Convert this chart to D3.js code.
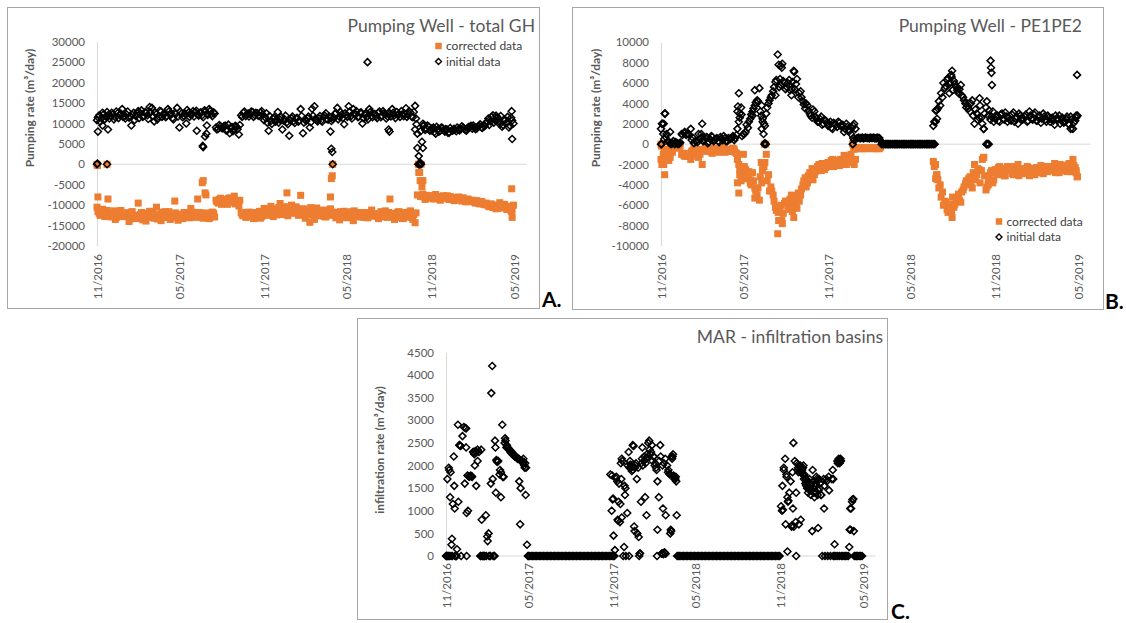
<!DOCTYPE html>
<html>
<head>
<meta charset="utf-8">
<script src="https://cdn.jsdelivr.net/npm/d3@7"></script>
<style>
  body { margin: 0; background: #fff; }
  svg { display: block; }
</style>
</head>
<body>
<svg id="chart" width="1126" height="623"></svg>
<script>
// time axis: day offsets counted from 01/11/2016
const startDate = '2016-11-01';
const axisEnd = '2019-05-24';
const tickDates = ['2016-11-01', '2017-05-01', '2017-11-01', '2018-05-01', '2018-11-01', '2019-05-01'];
const gridStep = 5;   // days between values in the pumping arrays
const midOffset = 2;  // the *Mid arrays sit 2 days after the main grid
const marStep = 3;    // days between values in the infiltration array

// Pumping well - total GH, initial data (one row per month)
const ghInitial = [
  10800, 12000, 11300, 12300, 11600, 12100,
  11800, 12300, 11500, 12500, 12000, 13500, 11700,
  12200, 11400, 9500, 12600, 11800, 13000,
  12400, 11600, 12800, 12000, 14000,
  13800, 10500, 12300, 11700, 12900, 12100, 11500,
  13500, 12200, 11300, 12600, 13800, 9000,
  12400, 11800, 10000, 12700, 12100, 13000,
  12800, 12200, 12600, 12000, 13200, 12400,
  13500, 12300, 12700, 9000, 8700, 9300,
  8800, 9500, 8400, 7600, 9100, 8600,
  9200, 7300, 12000, 12600, 11800, 12400,
  12300, 12800, 12000, 12500, 11900, 13000,
  10800, 12500, 8200, 10600, 11200, 10400,
  12800, 10900, 8500, 11000, 10300, 7000, 11300,
  10600, 11200, 10400, 13500, 7600, 11000,
  11300, 9000, 13600, 14200, 10800,
  11200, 10700, 11600, 12500, 10900, 11400, 11000,
  12300, 13800, 11600, 12200, 9800, 12000,
  14200, 11800, 13500, 12200, 11500, 12600,
  10000, 12100, 11600, 13500, 11900, 12300,
  11800, 12600, 11500, 13000, 12200, 11700,
  12400, 13500, 12000, 12800, 12300, 13000,
  11800, 13700, 12100, 12600, 11500, 14300,
  7500, 0, 5500, 9600, 8700, 9200,
  8300, 9000, 7500, 8600, 8200, 8900,
  8000, 8500, 7800, 8300, 8700, 8100, 8600,
  8600, 9000, 8400, 8900, 9200, 8700,
  9100, 8800, 9400, 9000, 9600,
  10000, 11200, 10500, 12000, 10800, 11500, 9800,
  9200, 11000, 10200, 9000, 11400, 10000
];
const ghInitialMid = [
  11500, 10400, 12600, 11000, 12800, 11200,
  12600, 11000, 12900, 11300, 12400, 11600,
  11200, 12900, 11800, 12100, 10800, 12500,
  11300, 13200, 11900, 12600, 11100, 12700,
  11900, 12700, 11000, 13100, 11600, 12400,
  11800, 12900, 12400, 11000, 12300, 11700,
  12900, 11500, 12400, 13300, 11600, 12200,
  11700, 13100, 11900, 12700, 11500, 12900,
  12100, 13000, 11800, 12400, 8500, 9600, 8900,
  9300, 8300, 9700, 8900, 8100, 9400,
  8600, 9600, 11600, 12900, 12200, 11700,
  12900, 11600, 12600, 11900, 12700, 12200,
  11500, 10200, 11800, 9900, 11500, 10900,
  10200, 11600, 10700, 11900, 9800, 10800,
  11700, 10100, 11400, 10700, 11800, 10200,
  10600, 11700, 10300, 11900, 11100, 10500,
  11800, 10400, 12000, 11100, 11700, 10600,
  11400, 12600, 11000, 12800, 11300, 12500,
  11600, 12900, 11200, 12400, 13000, 11700,
  12700, 11300, 12500, 11000, 12800, 11500,
  12300, 11300, 12900, 11900, 12500, 11200, 12600,
  11700, 12600, 11300, 12100, 11600, 12200,
  12400, 11600, 13000, 11700, 12800, 11200,
  0, 8100, 9900, 8400, 9500, 8200,
  8800, 7900, 9200, 8000, 9000, 8400,
  8600, 7700, 8900, 8200, 8400, 9000,
  8300, 9300, 8700, 8200, 9100, 9400,
  9500, 8600, 9200, 9800, 8900, 9300,
  10400, 9600, 11600, 10200, 11900, 10600,
  11800, 9600, 10800, 11600, 9500, 10700
];
const ghInitialExtra = [
  [0, 0], [1, 200], [2, 8000], [12, 9500], [22, 0], [24, 8500], [218, 8200], [231, 4500], [232, 4200],
  [236, 6800], [239, 7500], [240, 9500], [510, 8000], [512, 3800], [514, 3000], [515, 0], [591, 25000],
  [637, 8500], [639, 8000], [695, 8500], [698, 9800], [700, 4000], [703, 2000], [704, 0], [706, 0],
  [707, 300], [708, 0], [712, 4000], [713, 9400], [906, 13000], [907, 6200]
];

// Pumping well - total GH, corrected data
const ghCorrected = [
  -10500, -12000, -11800, -12300, -11500, -12400,
  -11800, -12500, -13500, -11600, -12300, -12800, -11900,
  -12600, -14000, -11700, -12800, -13300, -9500,
  -12300, -13600, -12000, -12900, -11500,
  -12700, -13200, -10500, -12400, -13800, -12000, -11600,
  -12900, -13500, -12200, -9000, -12800, -13300,
  -12300, -11800, -13000, -12600, -10800, -12500,
  -12800, -8500, -11900, -13000, -12400, -12200,
  -13300, -12600, -12000, -8800, -9500, -8300,
  -9000, -8600, -9800, -8200, -9300, -7800,
  -8900, -10200, -11800, -12600, -13000, -12200,
  -12700, -11900, -13000, -12400, -11500, -12800,
  -10800, -12500, -11500, -10300, -12800, -12000,
  -11000, -9600, -12300, -10500, -7000, -11200, -10000,
  -11600, -10400, -12500, -7600, -11000, -13200,
  -12000, -14200, -11300, -13500, -10700,
  -11800, -12600, -11200, -12900, -12200, -10900, -11700,
  -12500, -11800, -13600, -12200, -11500, -13000,
  -12700, -11600, -13800, -12300, -11900, -12900,
  -12400, -13000, -11800, -12600, -11200, -12100,
  -12500, -13300, -11700, -12800, -11400, -13000,
  -8500, -12700, -13500, -12200, -11600, -12900,
  -13200, -11800, -12600, -11400, -13500, -14300,
  -7500, -2000, -5500, -8000, -7600, -8300,
  -7800, -8500, -7400, -8200, -8800, -8000,
  -8300, -7700, -8600, -8100, -8900, -8400, -8000,
  -8700, -8200, -9100, -8500, -9000, -8800,
  -9300, -8900, -9600, -9100, -9800,
  -9500, -10200, -9700, -10600, -10000, -10800, -9400,
  -10400, -9800, -11000, -10300, -11500, -10000
];
const ghCorrectedMid = [
  -11600, -12500, -11000, -12800, -11300, -12200,
  -12900, -11400, -13000, -12100, -11300, -12700,
  -11900, -12800, -13400, -11600, -12500, -13100,
  -13200, -11800, -12600, -13900, -12200, -13000,
  -11900, -12800, -13400, -12300, -11700, -13000,
  -12200, -11600, -13100, -12600, -11900, -13700,
  -12800, -13300, -11900, -12200, -13100, -11700,
  -12100, -13000, -11800, -12600, -13200, -11900,
  -12400, -13000, -11700, -12900, -9200, -8600, -9800,
  -8800, -9600, -8400, -9200, -8900, -9700,
  -9500, -8800, -12400, -11800, -12900, -11700,
  -12200, -13300, -11800, -12600, -13200, -11900,
  -11900, -11000, -12300, -10900, -11600, -12400,
  -10600, -12100, -11300, -10400, -12600, -11500,
  -12000, -11200, -10800, -12300, -11500, -10900,
  -11600, -12400, -10600, -12100, -11800, -12600,
  -12400, -11300, -12800, -11500, -12000, -12500,
  -11900, -13100, -12400, -11600, -12800, -12100,
  -13100, -12000, -12600, -11400, -12700, -12300,
  -11800, -12900, -12200, -13100, -12000, -12700,
  -12100, -12800, -12300, -11600, -12900, -12200, -11800,
  -12300, -12000, -13000, -11700, -12500, -13300,
  -12000, -12900, -11700, -13000, -12300, -11900,
  0, -7900, -7300, -8600, -7700, -8100,
  -8100, -7600, -8400, -7900, -8300, -7700,
  -8000, -8500, -7900, -8600, -8200, -8700,
  -8400, -9000, -8600, -9200, -8700, -9100,
  -9000, -9500, -9200, -9700, -9400, -9900,
  -9900, -10400, -9800, -10300, -10900, -10100,
  -10100, -10700, -10300, -11100, -10500, -11200
];
const ghCorrectedExtra = [
  [0, 0], [1, -300], [2, -8000], [22, 0], [24, -8500], [230, -4500], [232, -4000], [236, -7000],
  [238, -7500], [510, -8000], [512, -3500], [514, -2800], [515, 0], [703, -2000], [704, 0],
  [706, -4000], [708, 0], [712, -4000], [906, -6000], [907, -13000]
];

// Pumping well - PE1PE2, initial data
const peInitial = [
  1500, 1000, 700, 300, 1200, 100,
  0, 100, 50, 1000, 1100, 900, 1000,
  1500, 600, 300, 200, 500, 2000,
  400, 700, 200, 800, 300,
  500, 300, 700, 400, 600, 300, 500,
  600, 400, 900, 2200, 3600, 1000,
  1200, 1600, 2500, 3200, 3800, 4300,
  5500, 3800, 2000, 3000, 4000, 4600,
  5200, 6100, 8800, 6400, 7900, 6000,
  5600, 6300, 4800, 7200, 5900, 4600,
  5200, 4200, 3500, 3800, 3000, 2600,
  3200, 2500, 2200, 2700, 2000, 2300,
  1800, 2200, 1500, 2000, 1700, 2100,
  1700, 1200, 2000, 1400, 1000, 1800, 1500,
  600, 550, 650, 600, 600, 550,
  600, 650, 550, 600, 300,
  0, 0, 0, 0, 0, 0, 0,
  0, 0, 0, 0, 0, 0,
  0, 0, 0, 0, 0, 0,
  0, 0, 0, 1800, 3300, 3500,
  3800, 4600, 5500, 6300, 5900, 6600,
  6200, 5600, 5000, 5800, 4600, 4000,
  3800, 3200, 4300, 2000, 3000, 2600,
  2600, 1500, 3600, 2800, 2400, 3200,
  2500, 2800, 2200, 3000, 2400, 2700,
  2600, 2300, 3100, 2500, 2000, 2800, 2400,
  2700, 2200, 3200, 2500, 2900, 2300,
  2600, 2100, 3000, 2400, 2800,
  2200, 2600, 1900, 2500, 2800, 2300, 2100,
  2500, 2000, 2700, 1500, 2300, 2800
];
const peInitialMid = [
  2000, 500, 1000, 200, 0, 300,
  200, 0, 150, 900, 1200, 1000,
  900, 400, 100, 300, 1000, 600,
  300, 600, 100, 500, 700, 400,
  600, 200, 500, 800, 300, 600,
  500, 800, 600, 1500, 3000, 800,
  1000, 1900, 2200, 2900, 3500, 4100,
  4200, 3200, 2500, 1800, 3600, 4300,
  4800, 5600, 6300, 7800, 5800, 6200, 5400,
  6000, 5300, 6100, 5400, 6400, 5000,
  4600, 3900, 4000, 3300, 2800, 3400,
  2700, 2200, 2500, 1900, 2400, 2100,
  2000, 1600, 2100, 1900, 2200, 1800,
  1900, 1500, 1700, 1300, 1600, 2000,
  550, 650, 600, 550, 650, 600,
  650, 600, 550, 650, 600, 0,
  0, 0, 0, 0, 0, 0,
  0, 0, 0, 0, 0, 0,
  0, 0, 0, 0, 0, 0,
  0, 0, 0, 0, 2200, 3300,
  4200, 5000, 6000, 5700, 6500, 6100, 5300,
  5900, 5300, 5400, 4800, 4300, 3600,
  3500, 4000, 2800, 3400, 2400, 3800,
  2000, 3000, 0, 3300, 2700, 2200,
  2700, 2300, 2900, 2500, 3100, 2200,
  2400, 2900, 2200, 2700, 3000, 2500,
  2500, 2900, 2300, 2800, 2400, 3100,
  2300, 2800, 2500, 2700, 2200, 2600,
  2500, 2300, 2800, 2400, 2000, 2600,
  2200, 2700, 1900, 2400, 2100, 2600
];
const peInitialExtra = [
  [0, 0], [1, 0], [3, 2000], [6, 2000], [8, 3000], [9, 3000], [20, 100], [88, 1000], [90, 700],
  [167, 3200], [168, 3700], [170, 5000], [172, 2600], [176, 2900], [200, 2800], [205, 5300],
  [219, 2800], [220, 1500], [222, 2200], [224, 1000], [226, 0], [227, 100], [229, 0], [250, 4800],
  [258, 5600], [262, 7700], [264, 7500], [286, 5400], [291, 7100], [419, 0], [420, 600], [422, 400],
  [595, 0], [598, 0], [600, 2200], [603, 2500], [630, 5000], [634, 6800], [636, 7200], [696, 4500],
  [705, 1500], [711, 0], [712, 4200], [714, 0], [716, 0], [720, 8200], [721, 7500], [722, 7000],
  [723, 5800], [895, 1500], [907, 2800], [909, 6800]
];

// Pumping well - PE1PE2, corrected data
const peCorrected = [
  -1500, -1000, -1200, -500, -1300, -800,
  -100, -200, -300, -1000, -1100, -900, -1200,
  -1500, -600, -900, -1200, -800, -2000,
  -500, -700, -400, -800, -600,
  -500, -700, -400, -600, -800, -500, -700,
  -600, -500, -900, -2000, -3600, -1000,
  -2500, -3000, -3800, -2800, -4300, -5000,
  -5500, -3800, -2200, -1000, -3000, -4200,
  -5000, -6200, -8800, -6300, -7800, -5800,
  -5600, -6400, -5000, -7200, -5800, -4800,
  -5000, -4000, -3300, -3800, -2800, -2400,
  -3000, -2500, -2000, -2600, -1900, -2300,
  -1800, -2200, -1500, -2000, -1600, -2100,
  -1700, -1100, -2000, -1400, -1000, -1800, -1500,
  -400, -450, -350, -400, -450, -400,
  -400, -350, -450, -400, -300,
  null, null, null, null, null, null, null,
  null, null, null, null, null, null,
  null, null, null, null, null, null,
  null, null, null, -1700, -3400, -3500,
  -4000, -4700, -5600, -6400, -5900, -6600,
  -6200, -5500, -4900, -5700, -4500, -3900,
  -3700, -3200, -4300, -2000, -3000, -2500,
  -2600, -1300, -4500, -3500, -2800, -3800,
  -2500, -3000, -2200, -2700, -3100, -2400,
  -2600, -2300, -3000, -2500, -2000, -2800, -2400,
  -2700, -2200, -3100, -2500, -2800, -2300,
  -2600, -2100, -2900, -2400, -2700,
  -2200, -2600, -1900, -2500, -2800, -2300, -2100,
  -2500, -2000, -2700, -1500, -2300, -3200
];
const peCorrectedMid = [
  -2000, -500, -900, -1600, -700, -300,
  -200, -400, -150, -900, -1200, -1000,
  -1000, -700, -400, -900, -1300, -500,
  -600, -300, -700, -500, -900, -400,
  -400, -800, -600, -300, -700, -500,
  -700, -400, -800, -1500, -3000, -2500,
  -2200, -3400, -2700, -4000, -3600, -4600,
  -4300, -3200, -2600, -1800, -3600, -4600,
  -4600, -5600, -6500, -7500, -6000, -6800, -5600,
  -6100, -5400, -6600, -5200, -6300, -5600,
  -4400, -3600, -4200, -3100, -2900, -3500,
  -2700, -2200, -2400, -1900, -2500, -2100,
  -2000, -1600, -2200, -1800, -2100, -1500,
  -1900, -1400, -1700, -1200, -1600, -2000,
  -450, -400, -350, -450, -400, -350,
  -350, -450, -400, -350, -450, null,
  null, null, null, null, null, null,
  null, null, null, null, null, null,
  null, null, null, null, null, null,
  null, null, null, null, -2200, -3000,
  -4300, -5200, -6000, -5700, -6700, -6200, -5200,
  -5900, -5200, -5500, -4700, -4200, -3600,
  -3400, -4000, -2800, -3500, -2400, -3800,
  -1500, -3100, -4200, -3300, -2600, -3500,
  -2700, -2300, -2900, -2500, -3100, -2200,
  -2400, -2900, -2200, -2700, -3100, -2500,
  -2500, -2900, -2300, -2800, -2400, -3000,
  -2300, -2800, -2500, -2700, -2200, -2600,
  -2500, -2300, -2800, -2400, -2000, -2600,
  -2200, -2700, -1900, -2400, -2100, -2600
];
const peCorrectedExtra = [
  [0, 0], [1, -200], [3, -1800], [6, -2000], [8, -3000], [85, -1000], [167, -3800], [170, -4800],
  [172, -2500], [176, -2900], [195, -3500], [205, -5300], [219, -1800], [222, -2500], [226, 0],
  [229, 0], [256, -6700], [264, -7500], [290, -6000], [419, 0], [421, -500], [600, -2000],
  [603, -3000], [636, -7200], [705, -1300], [715, -4000], [907, -2800], [909, -3200]
];

// MAR - infiltration basins, initial data (3-day grid)
const marInitial = [
  0, 1700, 1950, 1300, 250, 1150, 1550, 0, 150, 1200,
  2450, 0, 2650, 2850, 2830, 950, 1000, 1750, 1780, 1750,
  2300, 2000, 1550, 2100, 2300, 0, 800, 0, 0, 900,
  430, 500, 0, 3600, 1700, 0, 2400, 2100, 2100, 1800,
  1300, 2900, 1750, 2600, 2400, 2400, 2350, 2300, 2300, 2250,
  2200, 2200, 2150, 2150, 700, 2100, 2050, 2000, 1350, 250,
  0,
  0, 0, 0, 0, 0, 0, 0, 0, 0, 0,
  0, 0, 0, 0, 0, 0, 0, 0, 0, 0,
  0, 0, 0, 0, 0, 0, 0, 0, 0, 0,
  0, 0, 0, 0, 0, 0, 0, 0, 0, 0,
  0, 0, 0, 0, 0, 0, 0, 0, 0, 0,
  0, 0, 0, 0, 0, 0, 0, 0, 0, 0,
  0, 0,
  130, 1750, 800, 1600, 1150, 850, 0, 1550, 0, 950,
  2300, 2100, 1950, 2450, 650, 2000, 1700, 1950, 50, 1200,
  2400, 2100, 1300, 900, 2200, 2550, 2250, 2450, 2200, 2000,
  1950, 580, 1300, 2450, 50, 1050, 80, 900, 2000, 1900,
  1800, 550, 2200, 1750, 1700, 900,
  0, 0, 0, 0, 0, 0, 0, 0, 0, 0,
  0, 0, 0, 0, 0, 0, 0, 0, 0, 0,
  0, 0, 0, 0, 0, 0, 0, 0, 0, 0,
  0, 0, 0, 0, 0, 0, 0, 0, 0, 0,
  0, 0, 0, 0, 0, 0, 0, 0, 0, 0,
  0, 0, 0, 0, 0, 0, 0, 0, 0, 0,
  0, 0, 0, 0, 0, 0, 0, 0, 0, 0,
  0, 0, 0, 0, 0,
  1100, 1550, 1950, 2150, 1800, 1200, 1400, 1650, 680, 2500,
  2100, 0, 1900, 700, 2000, 1850, 1950, 1800, 1700, 1500,
  1650, 1450, 1550, 1900, 1400, 1600, 1700, 620, 1500, 1350,
  0, 1700, 0, 1700, 0, 1450, 0, 1700, 0, 260,
  0, 2100, 2150, 2100, 0, 0, 0, 0, 0, 0,
  580, 1050, 1250, 550, 0, 0, 0, 0
];
const marInitialExtra = [
  [1, 0], [2, 0], [4, 0], [5, 0], [7, 1900], [8, 0], [10, 1850], [11, 0], [13, 380], [14, 0],
  [17, 2200], [19, 1050], [20, 0], [22, 0], [23, 0], [26, 2900], [29, 2450], [32, 2430], [41, 1600],
  [44, 2820], [44, 2400], [45, 0], [47, 1780], [50, 1760], [56, 1760], [59, 2300], [61, 2280],
  [62, 2250], [64, 2320], [67, 2300], [69, 2350], [77, 2350], [76, 0], [79, 0], [82, 0], [85, 0],
  [88, 0], [91, 330], [94, 0], [97, 0], [98, 1600], [101, 4200], [103, 0], [106, 0], [107, 2550],
  [109, 1400], [110, 2120], [112, 2080], [113, 2100], [118, 1900], [120, 1850], [124, 1750],
  [128, 2500], [130, 2550], [133, 2450], [136, 2380], [139, 2350], [142, 2280], [145, 2250],
  [148, 2230], [151, 2200], [154, 2180], [157, 2150], [160, 1650], [163, 1500], [166, 2100],
  [169, 2150], [170, 2080], [172, 1950], [173, 2050], [175, 1950], [179, 0],
  [359, 1800], [362, 1000], [363, 1780], [364, 1250], [365, 1270], [366, 450], [368, 0], [371, 1720],
  [374, 1650], [376, 780], [377, 1200], [380, 750], [382, 2050], [383, 1700], [384, 2150], [385, 2100],
  [389, 200], [391, 1350], [392, 1500], [397, 2000], [400, 0], [401, 1950], [403, 2020], [404, 1980],
  [406, 1880], [408, 1900], [410, 2430], [412, 550], [413, 1950], [415, 2050], [418, 500], [421, 420],
  [422, 0], [424, 60], [427, 2050], [428, 2150], [430, 2000], [433, 2200], [436, 2050], [437, 2150],
  [439, 2250], [442, 2500], [445, 2350], [448, 2300], [451, 2100], [454, 2200], [457, 2050],
  [460, 1900], [461, 0], [462, 1650], [466, 2100], [469, 2200], [472, 60], [473, 2000], [475, 40],
  [476, 2050], [478, 70], [479, 2150], [480, 50], [485, 1850], [488, 1820], [490, 500], [491, 580],
  [493, 2200], [494, 2150], [496, 2250], [497, 1780], [499, 1700], [502, 1750], [503, 1650], [505, 0],
  [734, 1000], [736, 1020], [738, 1900], [742, 700], [744, 1750], [746, 100], [746, 1300], [748, 1220],
  [755, 650], [757, 1850], [758, 1050], [760, 650], [764, 750], [765, 1400], [766, 2050], [769, 1950],
  [770, 1850], [772, 2000], [773, 1900], [775, 800], [776, 1950], [778, 1900], [779, 1800], [781, 2000],
  [782, 1700], [784, 1750], [785, 1600], [787, 1550], [788, 1650], [790, 1600], [791, 1400],
  [793, 1500], [794, 1700], [796, 1600], [797, 1350], [799, 1450], [800, 550], [802, 1500],
  [803, 1650], [805, 1300], [806, 1550], [808, 1400], [809, 1750], [811, 1650], [812, 1350],
  [814, 1450], [815, 1700], [817, 1600], [820, 1350], [826, 1050], [827, 1550], [832, 1650],
  [836, 1750], [845, 1900], [846, 1700], [849, 0], [856, 2050], [857, 2080], [859, 2120], [860, 2050],
  [862, 2150], [863, 2100], [856, 0], [860, 0], [881, 200], [883, 1050], [884, 580], [887, 1200],
  [890, 1260], [892, 0], [898, 0], [906, 0], [909, 0]
];

const font = 'Lato, "Open Sans", sans-serif';
const orange = '#ED7D31';
const svg = d3.select('#chart');

function dayToDate(day) {
  return new Date(Date.parse(startDate) + day * 86400000);
}

function toPoints(grids, extra) {
  const pts = [];
  grids.forEach(([values, step, offset]) => {
    values.forEach((v, i) => { if (v !== null) pts.push({ day: i * step + offset, value: v }); });
  });
  extra.forEach(([day, value]) => pts.push({ day, value }));
  return pts.sort((a, b) => a.day - b.day);
}

function diamond(r) {
  return `M0,${-r}L${r},0L0,${r}L${-r},0Z`;
}

const panels = [
  {
    box: [7, 7, 532, 301], left: 97, right: 524.5, top: 41.7, bottom: 246,
    yMin: -20000, yMax: 30000, yStep: 5000,
    title: 'Pumping Well - total GH', titleX: 535, titleY: 31.5,
    yLabel: 'Pumping rate (m³/day)', yLabelX: 30, yLabelY: 108,
    legend: [438.5, 46], letter: 'A.', letterX: 542, letterY: 307, xGap: 8,
    corrected: toPoints([[ghCorrected, gridStep, 0], [ghCorrectedMid, gridStep, midOffset]], ghCorrectedExtra),
    initial: toPoints([[ghInitial, gridStep, 0], [ghInitialMid, gridStep, midOffset]], ghInitialExtra)
  },
  {
    box: [572, 7, 531, 302], left: 661, right: 1088.5, top: 42.3, bottom: 246,
    yMin: -10000, yMax: 10000, yStep: 2000,
    title: 'Pumping Well - PE1PE2', titleX: 1082, titleY: 32,
    yLabel: 'Pumping rate (m³/day)', yLabelX: 596, yLabelY: 108,
    legend: [999, 221.5], letter: 'B.', letterX: 1105, letterY: 309, xGap: 8,
    corrected: toPoints([[peCorrected, gridStep, 0], [peCorrectedMid, gridStep, midOffset]], peCorrectedExtra),
    initial: toPoints([[peInitial, gridStep, 0], [peInitialMid, gridStep, midOffset]], peInitialExtra)
  },
  {
    box: [357, 318, 530, 301], left: 446, right: 873.5, top: 352.4, bottom: 556,
    yMin: 0, yMax: 4500, yStep: 500,
    title: 'MAR - infiltration basins', titleX: 883, titleY: 343,
    yLabel: 'infiltration rate (m³/day)', yLabelX: 380, yLabelY: 450,
    legend: null, letter: 'C.', letterX: 891, letterY: 619, xGap: 7,
    corrected: [],
    initial: toPoints([[marInitial, marStep, 0]], marInitialExtra)
  }
];

panels.forEach(p => {
  const g = svg.append('g').attr('font-family', font);

  g.append('rect')
    .attr('x', p.box[0] + 0.5).attr('y', p.box[1] + 0.5)
    .attr('width', p.box[2]).attr('height', p.box[3])
    .attr('fill', '#fff').attr('stroke', '#a6a6a6');

  const x = d3.scaleUtc().domain([new Date(startDate), new Date(axisEnd)]).range([p.left, p.right]);
  const y = d3.scaleLinear().domain([p.yMin, p.yMax]).range([p.bottom, p.top]);

  const yAxis = g.append('g')
    .attr('transform', `translate(${p.left},0)`)
    .call(d3.axisLeft(y)
      .tickValues(d3.range(p.yMin, p.yMax + 1, p.yStep))
      .tickSize(0).tickSizeOuter(0).tickPadding(12)
      .tickFormat(d => String(d)));
  yAxis.attr('font-family', font).attr('font-size', 11.5);
  yAxis.select('.domain').attr('stroke', '#d9d9d9');
  yAxis.selectAll('text').attr('fill', '#595959');

  const xAxis = g.append('g')
    .attr('transform', `translate(0,${p.bottom})`)
    .call(d3.axisBottom(x)
      .tickValues(tickDates.map(d => new Date(d)))
      .tickSize(0).tickSizeOuter(0)
      .tickFormat(d3.utcFormat('%m/%Y')));
  xAxis.attr('font-family', font).attr('font-size', 11.5);
  xAxis.select('.domain').remove();
  xAxis.selectAll('text')
    .attr('fill', '#595959')
    .attr('transform', 'rotate(-90)')
    .attr('x', -p.xGap).attr('y', 0).attr('dy', '0.35em')
    .attr('text-anchor', 'end');

  // horizontal axis crosses at zero
  g.append('line')
    .attr('x1', p.left).attr('x2', p.right + 2)
    .attr('y1', y(0)).attr('y2', y(0))
    .attr('stroke', '#d9d9d9');

  g.append('g').selectAll('rect')
    .data(p.corrected)
    .join('rect')
    .attr('x', d => x(dayToDate(d.day)) - 3.5)
    .attr('y', d => y(d.value) - 3.5)
    .attr('width', 7).attr('height', 7)
    .attr('fill', orange);

  g.append('g').selectAll('path')
    .data(p.initial)
    .join('path')
    .attr('transform', d => `translate(${x(dayToDate(d.day))},${y(d.value)})`)
    .attr('d', diamond(3.5))
    .attr('fill', 'none')
    .attr('stroke', '#000')
    .attr('stroke-width', 1.5);

  g.append('text')
    .attr('x', p.titleX).attr('y', p.titleY)
    .attr('text-anchor', 'end')
    .attr('font-size', 17.5)
    .attr('fill', '#595959')
    .text(p.title);

  g.append('text')
    .attr('transform', `translate(${p.yLabelX},${p.yLabelY}) rotate(-90)`)
    .attr('text-anchor', 'middle').attr('dy', '0.35em')
    .attr('font-size', 12).attr('font-weight', 'bold')
    .attr('fill', '#595959')
    .text(p.yLabel);

  if (p.legend) {
    const [lx, ly] = p.legend;
    g.append('rect')
      .attr('x', lx - 3.25).attr('y', ly - 3.25)
      .attr('width', 6.5).attr('height', 6.5)
      .attr('fill', orange);
    g.append('path')
      .attr('transform', `translate(${lx},${ly + 15.5})`)
      .attr('d', diamond(3))
      .attr('fill', 'none').attr('stroke', '#000').attr('stroke-width', 1.4);
    g.selectAll('.legend-text')
      .data(['corrected data', 'initial data'])
      .join('text')
      .attr('x', lx + 7.5)
      .attr('y', (d, i) => ly + i * 15.5)
      .attr('dy', '0.35em')
      .attr('font-size', 12)
      .attr('fill', '#404040')
      .text(d => d);
  }

  g.append('text')
    .attr('x', p.letterX).attr('y', p.letterY)
    .attr('font-size', 21).attr('font-weight', 'bold')
    .attr('fill', '#000')
    .text(p.letter);
});
</script>
</body>
</html>
